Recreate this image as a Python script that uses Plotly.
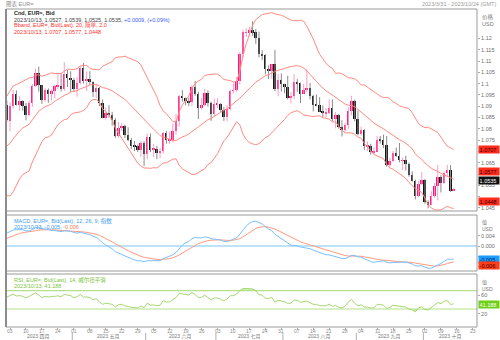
import numpy as np
import pandas as pd
import plotly.graph_objects as go

W, H = 500, 340

# ---------------- data ----------------
# closes before the visible window (2023-01-02 .. 2023-03-30), only used as indicator history
warm_close = [
    1.0670, 1.0547, 1.0605, 1.0522, 1.0645, 1.0733, 1.0734, 1.0761, 1.0852, 1.0831, 1.0822,
    1.0789, 1.0794, 1.0830, 1.0855, 1.0871, 1.0884, 1.0914, 1.0890, 1.0868, 1.0848, 1.0863,
    1.0990, 1.0912, 1.0795, 1.0727, 1.0726, 1.0712, 1.0739, 1.0679, 1.0723, 1.0737,
    1.0688, 1.0676, 1.0693, 1.0687, 1.0647, 1.0602, 1.0595, 1.0548, 1.0608, 1.0576,
    1.0667, 1.0597, 1.0634, 1.0683, 1.0548, 1.0545, 1.0580, 1.0641, 1.0732, 1.0731, 1.0578,
    1.0610, 1.0670, 1.0718, 1.0771, 1.0858, 1.0830, 1.0760, 1.0799, 1.0845, 1.0843, 1.0904,
]

# visible daily candles, 2023-03-31 .. 2023-10-13 (weekdays)
dates = pd.bdate_range("2023-03-31", "2023-10-13")
opens = [
    1.0904,
    1.0835, 1.0902, 1.0955, 1.0904, 1.0922, 1.0902, 1.0862, 1.0913, 1.0990, 1.1047,
    1.0992, 1.0927, 1.0973, 1.0955, 1.0966, 1.0985, 1.0990, 1.0974, 1.1042, 1.1027,
    1.1017, 1.0975, 1.1001, 1.1067, 1.1010, 1.1020, 1.1006, 1.0962, 1.0982, 1.0915,
    1.0849, 1.0871, 1.0862, 1.0840, 1.0768, 1.0805, 1.0813, 1.0771, 1.0752, 1.0725,
    1.0723, 1.0708, 1.0737,
    1.0688, 1.0762, 1.0708, 1.0712, 1.0694, 1.0700, 1.0780, 1.0749, 1.0752, 1.0791,
    1.0833, 1.0945, 1.0938, 1.0922, 1.0918, 1.0984, 1.0955, 1.0894, 1.0906, 1.0960,
    1.0912, 1.0866,
    1.0909, 1.0910, 1.0882, 1.0851, 1.0888, 1.0969, 1.0970, 1.1011, 1.1129, 1.1227,
    1.1228, 1.1236, 1.1228, 1.1200, 1.1129, 1.1125, 1.1064, 1.1055, 1.1085, 1.0975,
    1.1016,
    1.0999, 1.0985, 1.0938, 1.0945, 1.1005, 1.1001, 1.0956, 1.0973, 1.0980, 1.0947,
    1.0907, 1.0905, 1.0876, 1.0868, 1.0872, 1.0894, 1.0844, 1.0860, 1.0810, 1.0795,
    1.0818, 1.0880, 1.0921,
    1.0844, 1.0775, 1.0794, 1.0723, 1.0724, 1.0697, 1.0699, 1.0751, 1.0750, 1.0730,
    1.0642, 1.0659, 1.0691, 1.0678, 1.0660, 1.0660, 1.0644, 1.0594, 1.0570, 1.0502,
    1.0555,
    1.0573, 1.0475, 1.0464, 1.0504, 1.0549, 1.0586, 1.0560, 1.0605, 1.0619, 1.0527,
]
highs = [
    1.0925,
    1.0918, 1.0973, 1.0970, 1.0944, 1.0926, 1.0915, 1.0925, 1.0998, 1.1066, 1.1075,
    1.0995, 1.0980, 1.0979, 1.0975, 1.0995, 1.1045, 1.1048, 1.1095, 1.1060, 1.1055,
    1.1025, 1.1030, 1.1078, 1.1092, 1.1054, 1.1055, 1.1010, 1.1000, 1.0985, 1.0930,
    1.0895, 1.0904, 1.0875, 1.0847, 1.0830, 1.0826, 1.0818, 1.0807, 1.0760, 1.0746,
    1.0730, 1.0746, 1.0745,
    1.0779, 1.0779, 1.0734, 1.0725, 1.0716, 1.0786, 1.0790, 1.0788, 1.0823, 1.0865,
    1.0950, 1.0971, 1.0938, 1.0938, 1.0991, 1.1012, 1.0964, 1.0935, 1.0976, 1.0970,
    1.0920, 1.0934,
    1.0935, 1.0915, 1.0897, 1.0905, 1.0975, 1.1000, 1.1030, 1.1139, 1.1239, 1.1245,
    1.1250, 1.1276, 1.1241, 1.1230, 1.1148, 1.1130, 1.1080, 1.1087, 1.1149, 1.1044,
    1.1045,
    1.1000, 1.1035, 1.0962, 1.1042, 1.1020, 1.1004, 1.0999, 1.1064, 1.1003, 1.0950,
    1.0952, 1.0940, 1.0903, 1.0892, 1.0930, 1.0930, 1.0874, 1.0865, 1.0838, 1.0827,
    1.0895, 1.0946, 1.0929,
    1.0882, 1.0810, 1.0798, 1.0744, 1.0734, 1.0718, 1.0768, 1.0768, 1.0774, 1.0768,
    1.0670, 1.0702, 1.0717, 1.0737, 1.0673, 1.0681, 1.0651, 1.0612, 1.0575, 1.0570,
    1.0609,
    1.0578, 1.0483, 1.0524, 1.0560, 1.0640, 1.0595, 1.0610, 1.0640, 1.0639, 1.0539,
]
lows = [
    1.0830,
    1.0788, 1.0890, 1.0903, 1.0880, 1.0880, 1.0837, 1.0855, 1.0898, 1.0985, 1.0965,
    1.0910, 1.0920, 1.0915, 1.0925, 1.0935, 1.0975, 1.0965, 1.0967, 1.0985, 1.0962,
    1.0965, 1.0942, 1.0995, 1.1000, 1.0967, 1.0995, 1.0941, 1.0935, 1.0900, 1.0846,
    1.0840, 1.0850, 1.0814, 1.0760, 1.0760, 1.0790, 1.0760, 1.0745, 1.0710, 1.0701,
    1.0697, 1.0676, 1.0635,
    1.0665, 1.0697, 1.0675, 1.0666, 1.0670, 1.0690, 1.0734, 1.0733, 1.0739, 1.0774,
    1.0810, 1.0920, 1.0904, 1.0900, 1.0901, 1.0946, 1.0843, 1.0885, 1.0900, 1.0898,
    1.0835, 1.0856,
    1.0892, 1.0875, 1.0835, 1.0834, 1.0880, 1.0956, 1.0962, 1.0997, 1.1117, 1.1206,
    1.1208, 1.1210, 1.1176, 1.1116, 1.1104, 1.1041, 1.1020, 1.1021, 1.0967, 1.0944,
    1.0965,
    1.0957, 1.0930, 1.0912, 1.0930, 1.0963, 1.0914, 1.0955, 1.0962, 1.0930, 1.0877,
    1.0900, 1.0875, 1.0850, 1.0852, 1.0865, 1.0833, 1.0802, 1.0800, 1.0766, 1.0787,
    1.0800, 1.0860, 1.0833,
    1.0770, 1.0770, 1.0706, 1.0702, 1.0686, 1.0686, 1.0699, 1.0735, 1.0715, 1.0632,
    1.0631, 1.0655, 1.0675, 1.0652, 1.0617, 1.0615, 1.0588, 1.0566, 1.0488, 1.0496,
    1.0551,
    1.0468, 1.0448, 1.0462, 1.0495, 1.0483, 1.0518, 1.0556, 1.0592, 1.0521, 1.0525,
]
closes = [
    1.0839,
    1.0902, 1.0955, 1.0904, 1.0922, 1.0902, 1.0862, 1.0913, 1.0990, 1.1047, 1.0992,
    1.0927, 1.0973, 1.0955, 1.0966, 1.0990, 1.0990, 1.0974, 1.1042, 1.1027, 1.1017,
    1.0975, 1.1001, 1.1067, 1.1010, 1.1020, 1.1006, 1.0962, 1.0982, 1.0915, 1.0849,
    1.0871, 1.0862, 1.0840, 1.0768, 1.0805, 1.0813, 1.0771, 1.0752, 1.0725, 1.0723,
    1.0708, 1.0737, 1.0688,
    1.0762, 1.0708, 1.0712, 1.0694, 1.0700, 1.0780, 1.0749, 1.0752, 1.0791, 1.0833,
    1.0945, 1.0938, 1.0922, 1.0918, 1.0984, 1.0955, 1.0894, 1.0906, 1.0960, 1.0912,
    1.0866, 1.0909,
    1.0910, 1.0882, 1.0851, 1.0888, 1.0969, 1.0970, 1.1011, 1.1129, 1.1227, 1.1228,
    1.1236, 1.1228, 1.1200, 1.1129, 1.1125, 1.1064, 1.1055, 1.1085, 1.0975, 1.1016,
    1.0999,
    1.0985, 1.0938, 1.0945, 1.1005, 1.1001, 1.0956, 1.0973, 1.0980, 1.0947, 1.0907,
    1.0905, 1.0876, 1.0872, 1.0872, 1.0894, 1.0844, 1.0860, 1.0810, 1.0795, 1.0818,
    1.0880, 1.0921, 1.0844,
    1.0775, 1.0794, 1.0723, 1.0724, 1.0697, 1.0699, 1.0751, 1.0750, 1.0730, 1.0642,
    1.0659, 1.0691, 1.0678, 1.0660, 1.0660, 1.0644, 1.0594, 1.0570, 1.0502, 1.0555,
    1.0573,
    1.0475, 1.0464, 1.0504, 1.0549, 1.0586, 1.0560, 1.0605, 1.0619, 1.0526, 1.0535,
]
assert len(opens) == len(highs) == len(lows) == len(closes) == len(dates)

price_ticks = [1.12, 1.115, 1.11, 1.105, 1.10, 1.095, 1.09, 1.085, 1.08, 1.075, 1.07,
               1.065, 1.06, 1.055, 1.05, 1.045]
price_tick_text = ["1.12", "1.115", "1.11", "1.105", "1.1", "1.095", "1.09", "1.085", "1.08",
                   "1.075", "1.07", "1.065", "1.06", "1.055", "1.05", "1.045"]
macd_ticks = [0.004, 0.0, -0.004, -0.008]
macd_tick_text = ["0.004", "0.000", "-0.004", "-0.008"]
rsi_ticks = [60, 20]
rsi_levels = [70, 30]
month_names = ["2023 四月", "2023 五月", "2023 六月", "2023 七月", "2023 八月", "2023 九月", "2023 十月"]
month_starts = ["2023-04-01", "2023-05-01", "2023-06-01", "2023-07-01", "2023-08-01",
                "2023-09-01", "2023-10-01", "2023-11-01"]
axis_start, axis_end = "2023-03-31", "2023-10-24"

# ---------------- indicators ----------------
o = np.array(opens); h = np.array(highs); l = np.array(lows); c = np.array(closes)
allc = pd.Series(warm_close + closes)
nw = len(warm_close)
mid = allc.rolling(20).mean()
sd = allc.rolling(20).std(ddof=0)
bb_up = (mid + 2 * sd).values[nw:]
bb_mid = mid.values[nw:]
bb_lo = (mid - 2 * sd).values[nw:]
ema12 = allc.ewm(span=12, adjust=False).mean()
ema26 = allc.ewm(span=26, adjust=False).mean()
macd_all = ema12 - ema26
sig_all = macd_all.ewm(span=9, adjust=False).mean()
macd = macd_all.values[nw:]
sig = sig_all.values[nw:]
dif = allc.diff()
ag = dif.clip(lower=0).ewm(alpha=1 / 14, adjust=False).mean()
al = (-dif.clip(upper=0)).ewm(alpha=1 / 14, adjust=False).mean()
rsi = (100 - 100 / (1 + ag / al)).values[nw:]

# x positions: weekday index from 2023-04-03
base = np.datetime64("2023-04-03")
xi = np.busday_count(base, dates.values.astype("datetime64[D]"))
x0 = np.busday_count(base, np.datetime64(axis_start)) - 0.26
x1 = np.busday_count(base, np.datetime64(axis_end)) + 0.3

# ---------------- figure ----------------
PX = lambda px: px / W
PY = lambda py: 1 - py / H

TOP_M, BOT_M = 9, 211
TOP_D, BOT_D = 215, 271
TOP_R, BOT_R = 274, 327
XL, XR = 6, 477

FONT = "Liberation Sans, Arial, Noto Sans CJK SC, sans-serif"
UPC, UPW = "#ff1478", "#ff9cc6"
DNC, DNW = "#141414", "#8a8a8a"
BBC = "#ff8a80"

# axis scales (px per unit)
p_per = 11.3 / 0.005
y_top = 1.11 + (61 - TOP_M) / p_per
y_bot = 1.11 - (BOT_M - 61) / p_per
m_per = 2.6 / 0.001
m_top = (246 - TOP_D) / m_per
m_bot = -(BOT_D - 246) / m_per
r_per = (309 - 290.7) / 40
r_top = 70 + (290.7 - TOP_R) / r_per
r_bot = 30 - (BOT_R - 309) / r_per

fig = go.Figure()

up = c >= o
dn = ~up

def wick_xy(mask):
    xs, ys = [], []
    for xx, lo_, hi_ in zip(xi[mask], l[mask], h[mask]):
        xs += [xx, xx, None]
        ys += [lo_, hi_, None]
    return xs, ys

for mask, col in ((up, UPW), (dn, DNW)):
    wx, wy = wick_xy(mask)
    fig.add_trace(go.Scatter(x=wx, y=wy, mode="lines", line=dict(color=col, width=1),
                             hoverinfo="skip", xaxis="x", yaxis="y"))
for mask, col in ((up, UPC), (dn, DNC)):
    fig.add_trace(go.Bar(x=xi[mask], base=np.minimum(o, c)[mask],
                         y=np.maximum(np.abs(c - o)[mask], 0.00012),
                         width=0.62, marker=dict(color=col, line=dict(width=0)),
                         xaxis="x", yaxis="y"))

for band in (bb_up, bb_mid, bb_lo):
    fig.add_trace(go.Scatter(x=xi, y=band, mode="lines", line=dict(color=BBC, width=1),
                             xaxis="x", yaxis="y"))

# MACD
fig.add_trace(go.Scatter(x=[x0, x1], y=[0, 0], mode="lines",
                         line=dict(color="#7cc8f5", width=1.2), xaxis="x", yaxis="y2"))
fig.add_trace(go.Scatter(x=xi, y=sig, mode="lines", line=dict(color="#ff9a80", width=1),
                         xaxis="x", yaxis="y2"))
fig.add_trace(go.Scatter(x=xi, y=macd, mode="lines", line=dict(color="#78c0ff", width=1),
                         xaxis="x", yaxis="y2"))

# RSI
for lv in rsi_levels:
    fig.add_trace(go.Scatter(x=[x0, x1], y=[lv, lv], mode="lines",
                             line=dict(color="#b4e08a", width=1.2), xaxis="x", yaxis="y3"))
fig.add_trace(go.Scatter(x=xi, y=[70] * len(xi), mode="lines", line=dict(width=0),
                         xaxis="x", yaxis="y3", hoverinfo="skip"))
fig.add_trace(go.Scatter(x=xi, y=np.maximum(rsi, 70), mode="lines", line=dict(width=0),
                         fill="tonexty", fillcolor="rgba(170,225,120,0.55)",
                         xaxis="x", yaxis="y3", hoverinfo="skip"))
fig.add_trace(go.Scatter(x=xi, y=[30] * len(xi), mode="lines", line=dict(width=0),
                         xaxis="x", yaxis="y3", hoverinfo="skip"))
fig.add_trace(go.Scatter(x=xi, y=np.minimum(rsi, 30), mode="lines", line=dict(width=0),
                         fill="tonexty", fillcolor="rgba(170,225,120,0.55)",
                         xaxis="x", yaxis="y3", hoverinfo="skip"))
fig.add_trace(go.Scatter(x=xi, y=rsi, mode="lines", line=dict(color="#a6d86e", width=1),
                         xaxis="x", yaxis="y3"))

# x ticks (Mondays)
mondays = pd.date_range("2023-04-03", axis_end, freq="W-MON")
tickvals = [int(np.busday_count(base, np.datetime64(d.date()))) for d in mondays]
ticktext = [d.strftime("%d") for d in mondays]

# value tags (pixel rows where the tags sit, like the reference)
tags = [
    (149.5, f"{bb_up[-1]:.4f}", "#ff2a1a", "#3a0000"),
    (171, f"{bb_mid[-1]:.4f}", "#ff2a1a", "#3a0000"),
    (180, f"{c[-1]:.4f}", "#111111", "#ffffff"),
    (201, f"{bb_lo[-1]:.4f}", "#ff2a1a", "#3a0000"),
    (259.5, f"{macd[-1]:.3f}", "#1e9bff", "#00264d"),
    (265, f"{sig[-1]:.3f}", "#ff3d1a", "#3a0000"),
    (304, f"{rsi[-1]:.3f}", "#6fcf17", "#ffffff"),
]
tag_rows = [t[0] for t in tags]

def visible_labels(vals, texts, to_px):
    out = []
    for v, s in zip(vals, texts):
        py = to_px(v)
        out.append("" if any(abs(py - r) < 4.6 for r in tag_rows) else s)
    return out

price_lbl = visible_labels(price_ticks, price_tick_text, lambda v: 61 + (1.11 - v) * p_per)
macd_lbl = visible_labels(macd_ticks, macd_tick_text, lambda v: 246 - v * m_per)

axfont = dict(family=FONT, size=5.5, color="#6e6e6e")
fig.update_layout(
    width=W, height=H, margin=dict(l=0, r=0, t=0, b=0),
    paper_bgcolor="white", plot_bgcolor="white", showlegend=False,
    barmode="overlay", bargap=0,
    font=dict(family=FONT, size=5.5, color="#555"),
    xaxis=dict(domain=[PX(XL), PX(XR)], range=[x0, x1], anchor="y3",
               tickvals=tickvals, ticks="outside", ticklen=2, showticklabels=False,
               tickcolor="#aaa", showgrid=False, zeroline=False,
               showline=False, fixedrange=True),
    yaxis=dict(domain=[PY(BOT_M), PY(TOP_M)], range=[y_bot, y_top], side="right",
               anchor="x", tickvals=price_ticks, ticktext=price_lbl,
               ticks="outside", ticklen=2, tickcolor="#aaa", tickfont=axfont,
               showgrid=False, zeroline=False),
    yaxis2=dict(domain=[PY(BOT_D), PY(TOP_D)], range=[m_bot, m_top], side="right",
                anchor="x", tickvals=macd_ticks, ticktext=macd_lbl,
                ticks="outside", ticklen=2, tickcolor="#aaa", tickfont=axfont,
                showgrid=False, zeroline=False),
    yaxis3=dict(domain=[PY(BOT_R), PY(TOP_R)], range=[r_bot, r_top], side="right",
                anchor="x", tickvals=rsi_ticks, ticktext=[str(v) for v in rsi_ticks],
                ticks="outside", ticklen=2, tickcolor="#aaa", tickfont=axfont,
                showgrid=False, zeroline=False),
)

shapes = []
for t, b in ((TOP_M, BOT_M), (TOP_D, BOT_D), (TOP_R, BOT_R)):
    shapes.append(dict(type="rect", xref="paper", yref="paper", x0=PX(XL), x1=PX(XR),
                       y0=PY(b), y1=PY(t), line=dict(color="#9a9a9a", width=1),
                       layer="above"))
shapes.append(dict(type="line", xref="paper", yref="paper", x0=PX(XL), x1=PX(XL),
                   y0=PY(BOT_R), y1=PY(TOP_M), line=dict(color="#8c8c8c", width=2)))
# month separators under the axis
for ms in month_starts:
    bx = np.busday_count(base, np.datetime64(ms)) - 0.5
    if x0 <= bx <= x1:
        shapes.append(dict(type="line", xref="x", yref="paper", x0=bx, x1=bx,
                           y0=PY(340), y1=PY(333), line=dict(color="#b0b0b0", width=1)))
fig.update_layout(shapes=shapes)

ann = []
def txt(xp, yp, s, size=5.5, color="#444", xanchor="left", **kw):
    ann.append(dict(x=PX(xp), y=PY(yp), xref="paper", yref="paper", text=s,
                    showarrow=False, xanchor=xanchor, yanchor="middle",
                    font=dict(family=FONT, size=size, color=color), **kw))

last = dates[-1].strftime("%Y/%m/%d")
chg = c[-1] - c[-2]
txt(4, 4, "图表 EUR=", color="#8a8a8a")
txt(498, 4, "2023/3/31 - 2023/10/24 (GMT)", color="#9a9a9a", xanchor="right")
txt(12, 13.5, "<b>Cnd, EUR=, Bid</b>", color="#222")
txt(12, 19.5, f"{last}, {o[-1]:.4f}, {h[-1]:.4f}, {l[-1]:.4f}, {c[-1]:.4f}, "
    f"<span style='color:#3a5cff'>{chg:+.4f}, ({chg / c[-2] * 100:+.2f}%)</span>", color="#444")
txt(12, 25.5, "Bband, EUR=, Bid(Last), 20, 简单, 2.0", color="#ff3030")
txt(12, 31.5, f"{last}, {bb_up[-1]:.4f}, {bb_mid[-1]:.4f}, {bb_lo[-1]:.4f}", color="#ff3030")
txt(12, 220.5, "MACD, EUR=, Bid(Last), 12, 26, 9, 指数", color="#3d9ef0")
txt(12, 226.5, f"{last}, {macd[-1]:.3f}, <span style='color:#ff7a5a'>{sig[-1]:.3f}</span>",
    color="#3d9ef0")
txt(12, 279.5, "RSI, EUR=, Bid(Last), 14, 威尔德平滑", color="#7cc43c")
txt(12, 285.5, f"{last}, {rsi[-1]:.3f}", color="#7cc43c")

# unit labels on the right
txt(480, 17, "价格", color="#777"); txt(480, 24, "USD", color="#777")
txt(480, 222.5, "值", size=5, color="#777"); txt(480, 228.5, "USD", size=5, color="#777")
txt(480, 282, "值", size=5, color="#777"); txt(480, 288.5, "USD", size=5, color="#777")

for yp, s, bg, fg in tags:
    ann.append(dict(x=PX(477.5), y=PY(yp), xref="paper", yref="paper", text=s,
                    showarrow=False, xanchor="left", yanchor="middle", bgcolor=bg,
                    borderpad=0.6, width=19, align="left",
                    font=dict(family=FONT, size=5.5, color=fg)))

# day labels under the ticks
for tv, tt in zip(tickvals, ticktext):
    ann.append(dict(x=tv, y=PY(330.5), xref="x", yref="paper", text=tt, showarrow=False,
                    xanchor="center", yanchor="middle",
                    font=dict(family=FONT, size=5, color="#8a8a8a")))

# month labels
for i, name in enumerate(month_names):
    a = max(np.busday_count(base, np.datetime64(month_starts[i])), x0)
    b = min(np.busday_count(base, np.datetime64(month_starts[i + 1])) - 1, x1)
    ann.append(dict(x=(a + b) / 2, y=PY(336.5), xref="x", yref="paper", text=name,
                    showarrow=False, xanchor="center", yanchor="middle",
                    font=dict(family=FONT, size=5, color="#777")))
fig.update_layout(annotations=ann)

fig.write_html("out.html")
